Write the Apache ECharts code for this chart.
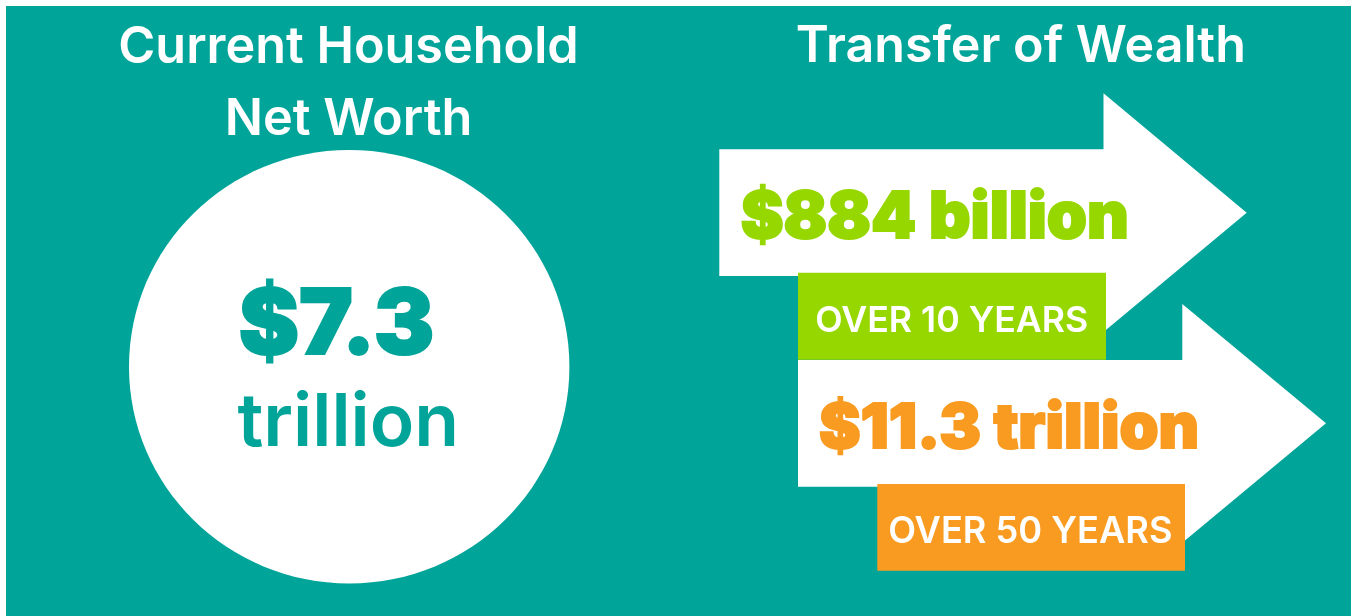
<!DOCTYPE html>
<html>
<head>
<meta charset="utf-8">
<script src="https://cdn.jsdelivr.net/npm/echarts@6/dist/echarts.min.js"></script>
<style>
  html, body { margin: 0; padding: 0; background: #ffffff; }
  #chart { width: 1351px; height: 616px; }
</style>
</head>
<body>
<div id="chart"></div>
<script>
// ---- data ----
const sectionTitles = ['Current Household', 'Net Worth', 'Transfer of Wealth'];
const netWorthValue = '$7.3';
const netWorthUnit = 'trillion';
const transferAmounts = ['$884 billion', '$11.3 trillion'];
const transferPeriods = ['OVER 10 YEARS', 'OVER 50 YEARS'];

// ---- style ----
const TEAL = '#00A499';
const LIME = '#97D700';
const ORANGE = '#F99B20';
const FONT = 'Inter, "Noto Sans", sans-serif';

// fit font size so that the ink width of text matches a target width,
// and place it so the reference glyph's ink is centred on targetMid
const mctx = document.createElement('canvas').getContext('2d');
function fitSize(text, weight, target) {
  mctx.font = weight + ' 100px ' + FONT;
  mctx.textBaseline = 'middle';
  const m = mctx.measureText(text);
  const w = (m.actualBoundingBoxLeft || 0) + (m.actualBoundingBoxRight || m.width);
  return 100 * target / w;
}
function midOffset(refGlyph, weight, size) {
  mctx.font = weight + ' ' + size + 'px ' + FONT;
  mctx.textBaseline = 'middle';
  const m = mctx.measureText(refGlyph);
  return (m.actualBoundingBoxDescent - m.actualBoundingBoxAscent) / 2;
}

// heavy: extra same-colour outline to mimic a black-weight display face
function label(text, cx, mid, width, weight, color, refGlyph, heavy) {
  const sw = heavy || 0;
  const size = +fitSize(text, weight, width - sw).toFixed(1);
  const off = midOffset(refGlyph || 'H', weight, size);
  const style = {
    text: text, fill: color,
    font: weight + ' ' + size + 'px ' + FONT,
    align: 'center', verticalAlign: 'middle'
  };
  if (sw) { style.stroke = color; style.lineWidth = sw; style.lineJoin = 'round'; }
  return { type: 'text', x: cx, y: mid - off, z: 10, style: style };
}

function arrow(x0, yTop, yBot, xNeck, headTop, xTip, z) {
  const yMid = (yTop + yBot) / 2;
  const headBot = 2 * yMid - headTop;
  return {
    type: 'polygon', z: z,
    shape: { points: [[x0, yTop], [xNeck, yTop], [xNeck, headTop], [xTip, yMid],
                      [xNeck, headBot], [xNeck, yBot], [x0, yBot]] },
    style: { fill: '#ffffff' }
  };
}

const chart = echarts.init(document.getElementById('chart'), null, { renderer: 'canvas' });
chart.setOption({
  animation: false,
  backgroundColor: '#ffffff',
  graphic: [
    { type: 'rect', z: 0, shape: { x: 6, y: 6, width: 1345, height: 610 }, style: { fill: TEAL } },
    { type: 'ellipse', z: 1, shape: { cx: 349.2, cy: 366.7, rx: 220.2, ry: 216.7 }, style: { fill: '#ffffff' } },
    arrow(719.3, 149.3, 276, 1103.5, 93.3, 1246.7, 1),
    { type: 'rect', z: 2, shape: { x: 798, y: 272.7, width: 308, height: 87 }, style: { fill: LIME } },
    arrow(798, 360, 486.7, 1182.3, 304, 1326, 3),
    { type: 'rect', z: 4, shape: { x: 877.3, y: 484, width: 307.7, height: 86.7 }, style: { fill: ORANGE } },

    label(sectionTitles[0], 348.5, 44.8, 455, 600, '#ffffff'),
    label(sectionTitles[1], 348.5, 116, 241, 600, '#ffffff'),
    label(sectionTitles[2], 1020.8, 43.8, 445, 600, '#ffffff'),

    label(netWorthValue, 336.5, 321, 193, 900, TEAL, '7', 2),
    label(netWorthUnit, 348.3, 419, 217, 600, TEAL, 'l'),

    label(transferAmounts[0], 934.8, 214.7, 386, 900, LIME, '8', 2),
    label(transferAmounts[1], 1009, 425.5, 378, 900, ORANGE, '1', 2),

    label(transferPeriods[0], 951.7, 319, 270, 600, '#ffffff'),
    label(transferPeriods[1], 1030.3, 529.5, 281, 600, '#ffffff')
  ]
});
</script>
</body>
</html>
